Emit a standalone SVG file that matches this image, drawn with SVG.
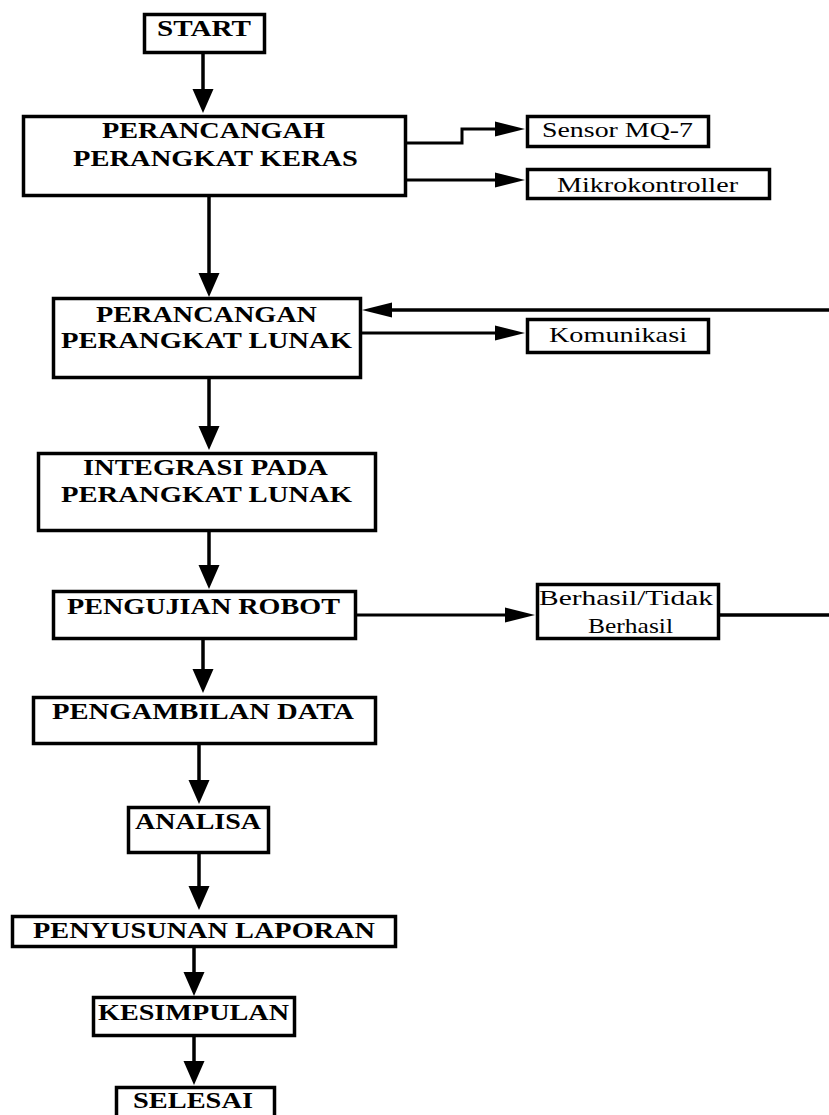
<svg xmlns="http://www.w3.org/2000/svg" width="829" height="1115" viewBox="0 0 829 1115">
<style>
.box{fill:#fff;stroke:#000;stroke-width:3.5}
.t{font-family:"Liberation Serif","Times New Roman",serif;font-weight:bold;font-size:30px;fill:#000}
.n{font-family:"Liberation Serif","Times New Roman",serif;font-size:29px;fill:#000}
.c{fill:none;stroke:#000;stroke-width:3.5}
.ch{fill:none;stroke:#000;stroke-width:3}
</style>
<defs>
<marker id="av" markerUnits="userSpaceOnUse" markerWidth="24" markerHeight="21" refX="0" refY="10.5" orient="auto" overflow="visible"><path d="M0 0 L24 10.5 L0 21 Z" fill="#000"/></marker>
<marker id="ah" markerUnits="userSpaceOnUse" markerWidth="30" markerHeight="15" refX="0" refY="7.5" orient="auto" overflow="visible"><path d="M0 0 L30 7.5 L0 15 Z" fill="#000"/></marker>
</defs>
<rect width="829" height="1115" fill="#fff"/>
<g id="connectors">
<path class="c" d="M203 54 V89" marker-end="url(#av)"/>
<path class="ch" d="M407 143 H462 V129 H495" marker-end="url(#ah)"/>
<path class="ch" d="M407 180 H495" marker-end="url(#ah)"/>
<path class="c" d="M209 197 V273" marker-end="url(#av)"/>
<path class="c" d="M829 310 H392" marker-end="url(#ah)"/>
<path class="ch" d="M362 333 H495" marker-end="url(#ah)"/>
<path class="c" d="M209 379 V426" marker-end="url(#av)"/>
<path class="c" d="M209 532 V565" marker-end="url(#av)"/>
<path class="ch" d="M357 615 H505" marker-end="url(#ah)"/>
<path class="c" d="M720 615 H829"/>
<path class="c" d="M203 640 V669" marker-end="url(#av)"/>
<path class="c" d="M199 745 V780" marker-end="url(#av)"/>
<path class="c" d="M199 854 V886" marker-end="url(#av)"/>
<path class="c" d="M194 948 V972" marker-end="url(#av)"/>
<path class="c" d="M194 1037 V1061" marker-end="url(#av)"/>
</g>
<g id="start"><rect class="box" x="144.5" y="14.5" width="120" height="38"/><text class="t" transform="matrix(1 0 0 0.77 0 36)" x="157" y="0" textLength="94" lengthAdjust="spacingAndGlyphs">START</text></g>
<g id="hardware"><rect class="box" x="23.5" y="116.5" width="382" height="79"/><text class="t" transform="matrix(1 0 0 0.74 0 138)" x="102" y="0" textLength="223" lengthAdjust="spacingAndGlyphs">PERANCANGAH</text><text class="t" transform="matrix(1 0 0 0.74 0 166)" x="73" y="0" textLength="285" lengthAdjust="spacingAndGlyphs">PERANGKAT KERAS</text></g>
<g id="sensor"><rect class="box" x="527.5" y="116.5" width="181" height="30"/><text class="n" transform="matrix(1 0 0 0.74 0 137)" x="542" y="0" textLength="151" lengthAdjust="spacingAndGlyphs">Sensor MQ-7</text></g>
<g id="mikro"><rect class="box" x="527.5" y="169.5" width="242" height="29"/><text class="n" transform="matrix(1 0 0 0.74 0 192)" x="557" y="0" textLength="181" lengthAdjust="spacingAndGlyphs">Mikrokontroller</text></g>
<g id="software"><rect class="box" x="53.5" y="298.5" width="307" height="79"/><text class="t" transform="matrix(1 0 0 0.74 0 322)" x="96" y="0" textLength="221" lengthAdjust="spacingAndGlyphs">PERANCANGAN</text><text class="t" transform="matrix(1 0 0 0.74 0 348)" x="61" y="0" textLength="291" lengthAdjust="spacingAndGlyphs">PERANGKAT LUNAK</text></g>
<g id="komunikasi"><rect class="box" x="527.5" y="319.5" width="181" height="33"/><text class="n" transform="matrix(1 0 0 0.74 0 342)" x="549" y="0" textLength="138" lengthAdjust="spacingAndGlyphs">Komunikasi</text></g>
<g id="integrasi"><rect class="box" x="38.5" y="453.5" width="337" height="77"/><text class="t" transform="matrix(1 0 0 0.74 0 475)" x="83" y="0" textLength="245" lengthAdjust="spacingAndGlyphs">INTEGRASI PADA</text><text class="t" transform="matrix(1 0 0 0.74 0 502)" x="61" y="0" textLength="291" lengthAdjust="spacingAndGlyphs">PERANGKAT LUNAK</text></g>
<g id="pengujian"><rect class="box" x="53.5" y="591.5" width="302" height="47"/><text class="t" transform="matrix(1 0 0 0.74 0 614)" x="67" y="0" textLength="273" lengthAdjust="spacingAndGlyphs">PENGUJIAN ROBOT</text></g>
<g id="berhasil"><rect class="box" x="537.5" y="584.5" width="181" height="54"/><text class="n" transform="matrix(1 0 0 0.74 0 605)" x="539" y="0" textLength="174" lengthAdjust="spacingAndGlyphs">Berhasil/Tidak</text><text class="n" transform="matrix(1 0 0 0.74 0 633)" x="588" y="0" textLength="85" lengthAdjust="spacingAndGlyphs">Berhasil</text></g>
<g id="pengambilan"><rect class="box" x="33.5" y="697.5" width="342" height="46"/><text class="t" transform="matrix(1 0 0 0.74 0 719)" x="52" y="0" textLength="302" lengthAdjust="spacingAndGlyphs">PENGAMBILAN DATA</text></g>
<g id="analisa"><rect class="box" x="128.5" y="807.5" width="140" height="45"/><text class="t" transform="matrix(1 0 0 0.76 0 829)" x="135" y="0" textLength="126" lengthAdjust="spacingAndGlyphs">ANALISA</text></g>
<g id="penyusunan"><rect class="box" x="12.5" y="916.5" width="383" height="30"/><text class="t" transform="matrix(1 0 0 0.74 0 938)" x="33" y="0" textLength="342" lengthAdjust="spacingAndGlyphs">PENYUSUNAN LAPORAN</text></g>
<g id="kesimpulan"><rect class="box" x="93.5" y="997.5" width="201" height="38"/><text class="t" transform="matrix(1 0 0 0.76 0 1020)" x="98" y="0" textLength="191" lengthAdjust="spacingAndGlyphs">KESIMPULAN</text></g>
<g id="selesai"><rect class="box" x="116.5" y="1087.5" width="158" height="40"/><text class="t" transform="matrix(1 0 0 0.76 0 1108)" x="133" y="0" textLength="120" lengthAdjust="spacingAndGlyphs">SELESAI</text></g>
</svg>
